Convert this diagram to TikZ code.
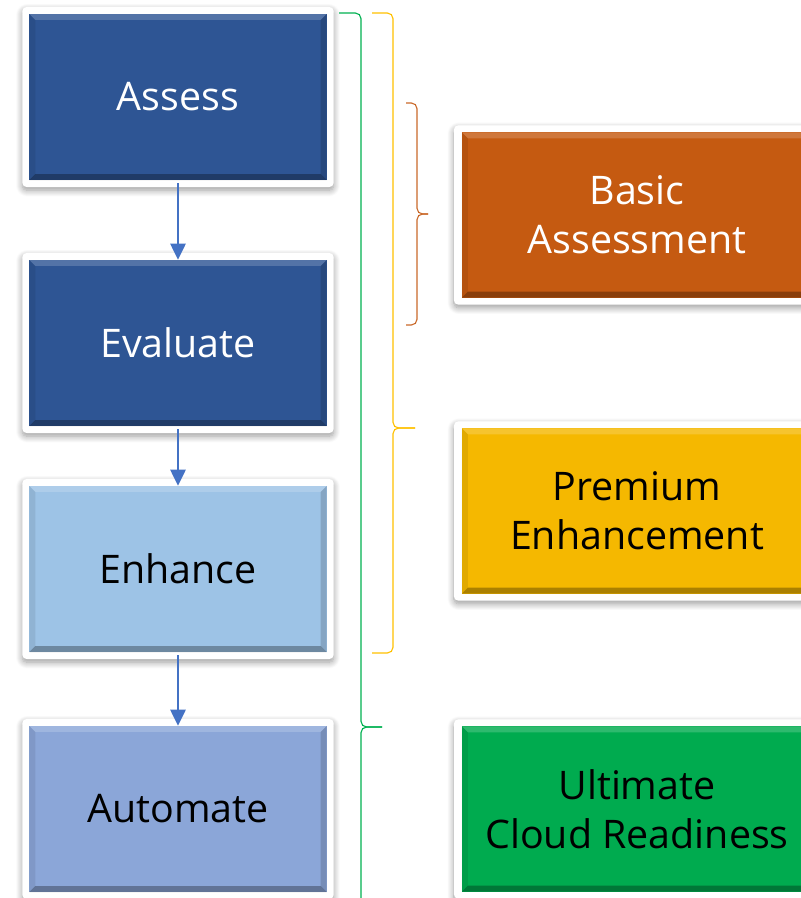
\documentclass[tikz,border=0pt]{standalone}
\usepackage{fontspec}
\setsansfont{Open Sans}
\usetikzlibrary{arrows.meta, shadows.blur}
\definecolor{cFlow}{HTML}{4472C4}
\definecolor{cDark}{HTML}{2E5594}
\definecolor{cLight}{HTML}{9DC3E6}
\definecolor{cMid}{HTML}{8BA6D8}
\definecolor{cOrange}{HTML}{C55A11}
\definecolor{cGold}{HTML}{F5B800}
\definecolor{cGreen}{HTML}{00AB4F}
\definecolor{bGreen}{HTML}{00B050}
\definecolor{bGold}{HTML}{FFC000}
\definecolor{bOrange}{HTML}{C9692A}

\begin{document}
\begin{tikzpicture}[
  x=0.025cm, y=-0.025cm,
  every node/.style={font=\sffamily\fontsize{28}{35}\selectfont},
  panel/.style={fill=white, rounded corners=3pt, inner sep=0pt,
                blur shadow={shadow blur steps=10, shadow xshift=0pt,
                shadow yshift=-0.8mm, shadow blur radius=1.6mm, shadow opacity=40}},
  stagepanel/.style={panel, minimum width=7.78cm, minimum height=4.5cm},
  tierpanel/.style={panel, minimum width=9.15cm, minimum height=4.48cm},
  bevel/.style={path picture={
    \coordinate (nw) at (path picture bounding box.north west);
    \coordinate (ne) at (path picture bounding box.north east);
    \coordinate (sw) at (path picture bounding box.south west);
    \coordinate (se) at (path picture bounding box.south east);
    \fill[white, opacity=.18] (nw) -- (ne) -- ([shift={(-1.5mm,-1.5mm)}]ne) -- ([shift={(1.5mm,-1.5mm)}]nw) -- cycle;
    \fill[black, opacity=.08] (nw) -- (sw) -- ([shift={(1.5mm,1.5mm)}]sw) -- ([shift={(1.5mm,-1.5mm)}]nw) -- cycle;
    \fill[black, opacity=.15] (ne) -- (se) -- ([shift={(-1.5mm,1.5mm)}]se) -- ([shift={(-1.5mm,-1.5mm)}]ne) -- cycle;
    \fill[black, opacity=.3] (sw) -- (se) -- ([shift={(-1.5mm,1.5mm)}]se) -- ([shift={(1.5mm,1.5mm)}]sw) -- cycle;
  }},
  stage/.style={inner sep=0pt, minimum width=7.43cm, minimum height=4.15cm, bevel},
  tier/.style={inner sep=0pt, minimum width=8.75cm, minimum height=4.13cm, align=center, bevel},
  flow/.style={-{Triangle[length=4mm, width=3.8mm]}, line width=1.5pt, cFlow, shorten <=2pt},
  curly/.style={line width=0.8pt, rounded corners=4pt},
]
  \useasboundingbox (0,0) rectangle (800,898);

  % Stages
  \node[stagepanel] (assess-p) at (178,97) {};
  \node[stage, fill=cDark, text=white] (assess) at (178,97) {Assess};
  \node[stagepanel] (evaluate-p) at (178,343) {};
  \node[stage, fill=cDark, text=white] (evaluate) at (178,343) {Evaluate};
  \node[stagepanel] (enhance-p) at (178,569) {};
  \node[stage, fill=cLight, text=black] (enhance) at (178,569) {Enhance};
  \node[stagepanel] (automate-p) at (178,809) {};
  \node[stage, fill=cMid, text=black] (automate) at (178,809) {Automate};

  \draw[flow] (assess.south) -- (evaluate.north);
  \draw[flow] (evaluate.south) -- (enhance.north);
  \draw[flow] (enhance.south) -- (automate.north);

  % Offerings
  \node[tierpanel] (basic-p) at (637,215) {};
  \node[tier, fill=cOrange, text=white] (basic) at (637,215) {Basic\\Assessment};
  \node[tierpanel] (premium-p) at (637,511) {};
  \node[tier, fill=cGold, text=black] (premium) at (637,511) {Premium\\Enhancement};
  \node[tierpanel] (ultimate-p) at (637,809) {};
  \node[tier, fill=cGreen, text=black] (ultimate) at (637,809) {Ultimate\\Cloud Readiness};

  % Braces
  \draw[curly, bGreen] (339,13) -- (361,13) -- (361,727) -- (382,727);
  \draw[curly, bGreen] (382,727) -- (361,727) -- (361,930) -- (339,930);
  \draw[curly, bGold] (372,13) -- (393,13) -- (393,428) -- (415,428);
  \draw[curly, bGold] (415,428) -- (393,428) -- (393,653) -- (372,653);
  \draw[curly, bOrange] (406,103) -- (417,103) -- (417,214) -- (428,214);
  \draw[curly, bOrange] (428,214) -- (417,214) -- (417,325) -- (406,325);
\end{tikzpicture}
\end{document}
